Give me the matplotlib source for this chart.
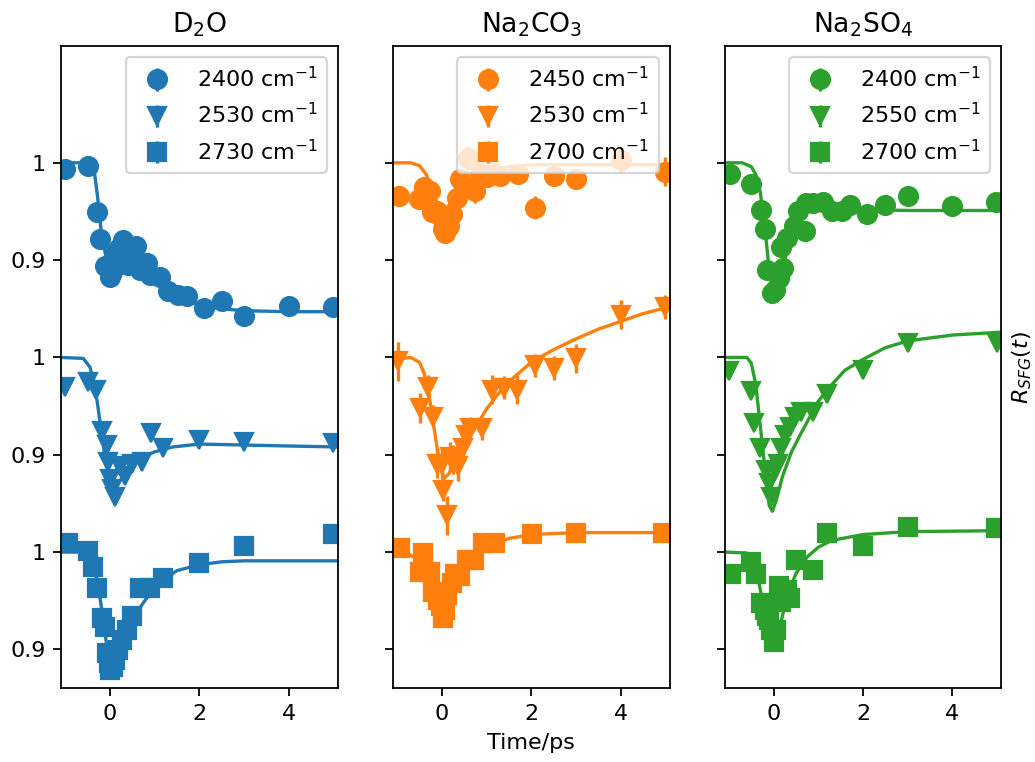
import numpy as np
import matplotlib.pyplot as plt

# ---- D2O ----
d2o_labels = ["2400 cm$^{-1}$", "2530 cm$^{-1}$", "2730 cm$^{-1}$"]

d2o_a_t = [-1.0, -0.49, -0.29, -0.22, -0.11, 0.0, 0.05, 0.11, 0.2, 0.29, 0.4, 0.5, 0.59,
           0.67, 0.82, 0.89, 1.12, 1.3, 1.53, 1.72, 2.1, 2.5, 3.0, 4.0, 5.0]
d2o_a_r = [0.994, 0.997, 0.949, 0.922, 0.894, 0.883, 0.888, 0.907, 0.912, 0.921, 0.895, 0.905,
           0.915, 0.890, 0.897, 0.885, 0.883, 0.868, 0.864, 0.863, 0.851, 0.858, 0.843, 0.853, 0.852]
d2o_a_fit_t = [-1.1, -0.6, -0.45, -0.35, -0.28, -0.2, -0.1, 0.0, 0.1, 0.25, 0.5, 0.75, 1.0,
               1.5, 2.0, 2.5, 3.0, 4.0, 5.1]
d2o_a_fit_r = [1.0, 1.0, 0.998, 0.99, 0.965, 0.93, 0.905, 0.897, 0.897, 0.9, 0.895, 0.885,
               0.876, 0.862, 0.854, 0.85, 0.848, 0.847, 0.847]

d2o_b_t = [-1.0, -0.49, -0.31, -0.19, -0.07, -0.04, 0.0, 0.05, 0.11, 0.22, 0.33, 0.48, 0.71,
           0.91, 1.19, 1.99, 3.0, 5.0]
d2o_b_r = [0.970, 0.975, 0.967, 0.924, 0.910, 0.893, 0.875, 0.865, 0.857, 0.888, 0.878, 0.891,
           0.893, 0.922, 0.907, 0.915, 0.913, 0.912]
d2o_b_fit_t = [-1.1, -0.6, -0.45, -0.35, -0.28, -0.2, -0.1, 0.0, 0.1, 0.2, 0.35, 0.5, 0.7,
               1.0, 1.4, 2.0, 3.0, 4.0, 5.1]
d2o_b_fit_r = [1.0, 0.999, 0.99, 0.972, 0.952, 0.925, 0.893, 0.873, 0.866, 0.872, 0.882, 0.89,
               0.897, 0.903, 0.908, 0.911, 0.91, 0.909, 0.908]

d2o_c_t = [-0.94, -0.49, -0.38, -0.29, -0.19, -0.12, -0.08, -0.03, 0.0, 0.07, 0.11, 0.18, 0.26,
           0.37, 0.5, 0.67, 0.89, 1.19, 2.0, 3.0, 5.0]
d2o_c_r = [1.009, 1.001, 0.985, 0.963, 0.932, 0.923, 0.896, 0.886, 0.879, 0.882, 0.889, 0.899,
           0.910, 0.920, 0.934, 0.963, 0.963, 0.973, 0.989, 1.006, 1.019]
d2o_c_fit_t = [-1.1, -0.6, -0.45, -0.35, -0.25, -0.15, -0.05, 0.03, 0.1, 0.2, 0.35, 0.5, 0.7,
               0.9, 1.2, 1.5, 2.0, 2.5, 3.0, 4.0, 5.1]
d2o_c_fit_r = [1.0, 1.0, 0.997, 0.985, 0.96, 0.93, 0.895, 0.878, 0.88, 0.892, 0.91, 0.927,
               0.945, 0.958, 0.972, 0.981, 0.987, 0.99, 0.991, 0.991, 0.991]

# ---- Na2CO3 ----
nac_labels = ["2450 cm$^{-1}$", "2530 cm$^{-1}$", "2700 cm$^{-1}$"]

nac_a_t = [-0.97, -0.51, -0.4, -0.27, -0.21, -0.1, -0.04, 0.03, 0.07, 0.15, 0.22, 0.33, 0.40,
           0.5, 0.59, 0.74, 0.85, 1.0, 1.15, 1.30, 1.71, 2.09, 2.5, 3.0, 4.02, 5.0]
nac_a_r = [0.966, 0.963, 0.975, 0.971, 0.949, 0.95, 0.945, 0.932, 0.928, 0.935, 0.947, 0.964,
           0.983, 0.975, 1.005, 0.971, 0.990, 0.985, 0.990, 0.986, 0.988, 0.954, 0.986, 0.983,
           1.003, 0.991]
nac_a_err = [0.008, 0.01, 0.008, 0.01, 0.008, 0.008, 0.01, 0.012, 0.01, 0.008, 0.01, 0.01,
             0.008, 0.008, 0.012, 0.012, 0.01, 0.008, 0.008, 0.01, 0.008, 0.012, 0.008, 0.01,
             0.012, 0.015]
nac_a_fit_t = [-1.1, -0.7, -0.5, -0.35, -0.2, -0.1, 0.0, 0.1, 0.25, 0.5, 0.75, 1.0, 1.5, 2.0,
               3.0, 5.1]
nac_a_fit_r = [1.0, 1.0, 0.997, 0.988, 0.97, 0.958, 0.951, 0.953, 0.962, 0.975, 0.985, 0.991,
               0.996, 0.998, 0.998, 0.998]

nac_b_t = [-0.98, -0.49, -0.31, -0.19, -0.12, 0.0, 0.03, 0.11, 0.18, 0.25, 0.37, 0.48, 0.55,
           0.63, 0.89, 1.12, 1.38, 1.68, 2.09, 2.5, 3.0, 4.02, 4.99]
nac_b_r = [0.996, 0.948, 0.970, 0.939, 0.891, 0.89, 0.864, 0.838, 0.898, 0.895, 0.888, 0.907,
           0.92, 0.927, 0.927, 0.967, 0.969, 0.967, 0.992, 0.989, 0.999, 1.044, 1.052]
nac_b_err = [0.02, 0.015, 0.012, 0.012, 0.015, 0.015, 0.012, 0.02, 0.015, 0.015, 0.015, 0.012,
             0.012, 0.012, 0.012, 0.015, 0.012, 0.015, 0.012, 0.012, 0.015, 0.015, 0.012]
nac_b_fit_t = [-1.1, -0.7, -0.5, -0.4, -0.3, -0.2, -0.1, 0.0, 0.05, 0.15, 0.3, 0.5, 0.75, 1.0,
               1.25, 1.5, 2.0, 2.5, 3.0, 3.5, 4.0, 4.5, 5.1]
nac_b_fit_r = [0.998, 1.0, 0.995, 0.984, 0.965, 0.935, 0.905, 0.882, 0.876, 0.88, 0.893, 0.908,
               0.928, 0.947, 0.962, 0.975, 0.995, 1.008, 1.019, 1.029, 1.037, 1.045, 1.052]

nac_c_t = [-0.94, -0.49, -0.42, -0.27, -0.19, -0.08, -0.03, 0.03, 0.07, 0.11, 0.22, 0.29, 0.4,
           0.56, 0.71, 0.93, 1.19, 2.01, 3.0, 4.96]
nac_c_r = [1.004, 0.980, 0.999, 0.980, 0.959, 0.951, 0.945, 0.932, 0.94, 0.956, 0.968, 0.977,
           0.975, 0.992, 0.992, 1.009, 1.009, 1.019, 1.020, 1.020]
nac_c_err = 0.006
nac_c_fit_t = [-1.1, -0.7, -0.5, -0.35, -0.2, -0.1, 0.0, 0.1, 0.25, 0.45, 0.7, 1.0, 1.5, 2.0,
               3.0, 4.0, 5.1]
nac_c_fit_r = [1.0, 0.997, 0.99, 0.978, 0.958, 0.943, 0.935, 0.94, 0.958, 0.976, 0.992, 1.004,
               1.014, 1.018, 1.02, 1.02, 1.02]

# ---- Na2SO4 ----
nas_labels = ["2400 cm$^{-1}$", "2550 cm$^{-1}$", "2700 cm$^{-1}$"]

nas_a_t = [-0.97, -0.50, -0.29, -0.19, -0.16, -0.04, 0.04, 0.11, 0.17, 0.2, 0.30, 0.45, 0.55,
           0.70, 0.72, 0.88, 1.11, 1.3, 1.52, 1.71, 2.08, 2.49, 3.0, 4.0, 4.98]
nas_a_r = [0.988, 0.978, 0.951, 0.932, 0.890, 0.866, 0.869, 0.882, 0.913, 0.892, 0.923, 0.935,
           0.950, 0.930, 0.959, 0.959, 0.960, 0.950, 0.950, 0.957, 0.947, 0.957, 0.966, 0.956, 0.960]
nas_a_fit_t = [-1.1, -0.7, -0.5, -0.4, -0.3, -0.2, -0.1, 0.0, 0.1, 0.2, 0.35, 0.5, 0.7, 1.0,
               1.5, 2.0, 3.0, 5.1]
nas_a_fit_r = [1.0, 1.0, 0.996, 0.988, 0.97, 0.935, 0.89, 0.866, 0.87, 0.89, 0.92, 0.94, 0.952,
               0.955, 0.953, 0.952, 0.951, 0.951]

nas_b_t = [-0.99, -0.50, -0.43, -0.30, -0.17, -0.10, -0.06, 0.02, 0.1, 0.17, 0.25, 0.36, 0.47,
           0.62, 0.88, 1.2, 2.0, 3.0, 5.0]
nas_b_r = [0.986, 0.965, 0.933, 0.907, 0.884, 0.871, 0.857, 0.884, 0.89, 0.907, 0.92, 0.929,
           0.939, 0.944, 0.944, 0.962, 0.987, 1.015, 1.015]
nas_b_fit_t = [-1.1, -0.6, -0.5, -0.4, -0.3, -0.2, -0.1, -0.03, 0.05, 0.2, 0.4, 0.6, 0.8, 1.0,
               1.3, 1.6, 2.0, 2.5, 3.0, 4.0, 5.1]
nas_b_fit_r = [1.0, 1.0, 0.994, 0.972, 0.93, 0.888, 0.848, 0.842, 0.852, 0.878, 0.903, 0.921,
               0.938, 0.955, 0.972, 0.987, 0.998, 1.01, 1.017, 1.023, 1.026]

nas_c_t = [-0.95, -0.50, -0.39, -0.28, -0.2, -0.16, -0.1, -0.05, 0.0, 0.05, 0.13, 0.17, 0.29,
           0.36, 0.51, 0.88, 1.2, 2.0, 3.0, 4.97]
nas_c_r = [0.977, 0.990, 0.977, 0.948, 0.94, 0.934, 0.93, 0.920, 0.908, 0.92, 0.965, 0.949,
           0.961, 0.953, 0.992, 0.982, 1.020, 1.006, 1.026, 1.025]
nas_c_fit_t = [-1.1, -0.6, -0.45, -0.35, -0.25, -0.15, -0.05, 0.05, 0.15, 0.3, 0.5, 0.75, 1.0,
               1.3, 2.0, 3.0, 5.1]
nas_c_fit_r = [1.0, 0.999, 0.99, 0.973, 0.95, 0.925, 0.907, 0.905, 0.925, 0.955, 0.978, 0.995,
               1.005, 1.012, 1.018, 1.021, 1.022]

titles = ["D$_2$O", "Na$_2$CO$_3$", "Na$_2$SO$_4$"]
colors = ["tab:blue", "tab:orange", "tab:green"]
markers = ["o", "v", "s"]
offsets = [0.0, -0.2, -0.4]

panels = [
    (d2o_labels, [(d2o_a_t, d2o_a_r, 0.005, d2o_a_fit_t, d2o_a_fit_r),
                  (d2o_b_t, d2o_b_r, 0.005, d2o_b_fit_t, d2o_b_fit_r),
                  (d2o_c_t, d2o_c_r, 0.005, d2o_c_fit_t, d2o_c_fit_r)]),
    (nac_labels, [(nac_a_t, nac_a_r, nac_a_err, nac_a_fit_t, nac_a_fit_r),
                  (nac_b_t, nac_b_r, nac_b_err, nac_b_fit_t, nac_b_fit_r),
                  (nac_c_t, nac_c_r, nac_c_err, nac_c_fit_t, nac_c_fit_r)]),
    (nas_labels, [(nas_a_t, nas_a_r, 0.005, nas_a_fit_t, nas_a_fit_r),
                  (nas_b_t, nas_b_r, 0.005, nas_b_fit_t, nas_b_fit_r),
                  (nas_c_t, nas_c_r, 0.006, nas_c_fit_t, nas_c_fit_r)]),
]

fig, axes = plt.subplots(1, 3, sharey=True, figsize=(1035 / 160, 762 / 160), dpi=160)
fig.subplots_adjust(left=0.0589, right=0.9676, bottom=0.0967, top=0.9396, wspace=0.198)

for i, ax in enumerate(axes):
    labels, series = panels[i]
    c = colors[i]
    for j, (t, r, err, ft, fr) in enumerate(series):
        off = offsets[j]
        ax.plot(ft, np.array(fr) + off, color=c, lw=1.5)
        ax.errorbar(t, np.array(r) + off, yerr=err, fmt=markers[j], color=c,
                    markersize=8.5, label=labels[j])
    ax.set_title(titles[i])
    ax.set_xlim(-1.1, 5.1)
    ax.set_xticks([0, 2, 4])
    ax.legend(loc="upper right")

axes[0].set_ylim(0.46, 1.12)
axes[0].set_yticks([0.5, 0.6, 0.7, 0.8, 0.9, 1.0])
axes[0].set_yticklabels(["0.9", "1", "0.9", "1", "0.9", "1"])
axes[1].set_xlabel("Time/ps")
axes[2].yaxis.set_label_position("right")
axes[2].set_ylabel("$R_{SFG}(t)$")

plt.savefig("out.png", dpi=160)
